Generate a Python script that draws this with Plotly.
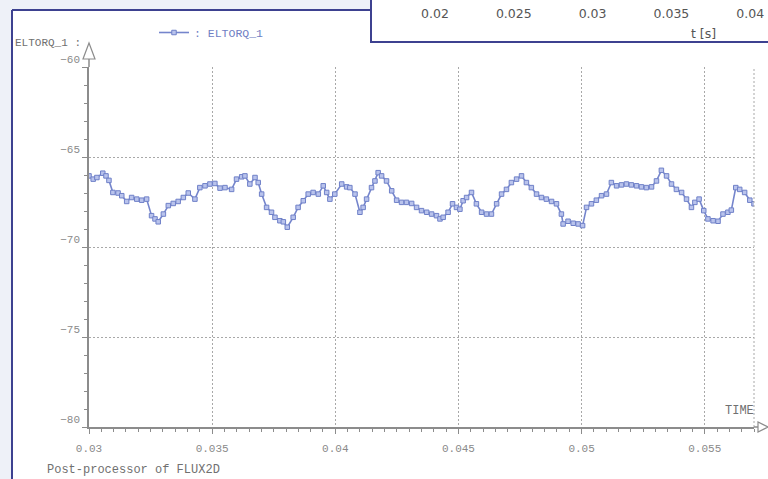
import plotly.graph_objects as go

# ---- data (time in ms, torque) ----
time_ms = [30.0, 30.17, 30.32, 30.56, 30.69, 30.81, 30.97, 31.18, 31.33, 31.53, 31.73, 31.94,
           32.14, 32.34, 32.54, 32.68, 32.81, 33.02, 33.22, 33.42, 33.62, 33.83, 34.03, 34.30,
           34.50, 34.71, 34.91, 35.11, 35.32, 35.52, 35.79, 35.99, 36.20, 36.33, 36.53, 36.74,
           36.87, 37.01, 37.21, 37.41, 37.55, 37.75, 37.89, 38.05, 38.29, 38.49, 38.70, 38.90,
           39.10, 39.31, 39.51, 39.65, 39.78, 39.98, 40.26, 40.46, 40.59, 40.80, 41.00, 41.13,
           41.27, 41.47, 41.61, 41.74, 41.88, 42.08, 42.29, 42.49, 42.69, 42.89, 43.10, 43.30,
           43.50, 43.71, 43.91, 44.11, 44.25, 44.38, 44.58, 44.76, 44.92, 45.06, 45.19, 45.33,
           45.53, 45.73, 45.94, 46.14, 46.34, 46.55, 46.75, 46.95, 47.15, 47.36, 47.56, 47.76,
           47.96, 48.17, 48.37, 48.57, 48.78, 48.98, 49.18, 49.25, 49.45, 49.66, 49.86, 50.04,
           50.20, 50.40, 50.60, 50.81, 51.01, 51.21, 51.42, 51.62, 51.82, 52.02, 52.23, 52.43,
           52.63, 52.84, 53.04, 53.24, 53.45, 53.65, 53.85, 54.06, 54.26, 54.46, 54.60, 54.77,
           54.96, 55.13, 55.34, 55.54, 55.74, 55.94, 56.08, 56.26, 56.42, 56.62, 56.83, 57.0]
eltorq_1 = [-66.05, -66.23, -66.14, -65.90, -66.05, -66.30, -66.97, -67.00, -67.15, -67.47, -67.25, -67.34,
            -67.40, -67.34, -68.26, -68.44, -68.60, -68.17, -67.70, -67.58, -67.47, -67.25, -67.00, -67.34,
            -66.70, -66.60, -66.50, -66.47, -66.73, -66.70, -66.80, -66.23, -66.10, -66.05, -66.50, -66.14,
            -66.42, -67.06, -67.80, -68.07, -68.35, -68.54, -68.60, -68.90, -68.35, -67.80, -67.43, -67.06,
            -66.97, -67.06, -66.60, -66.97, -67.34, -67.06, -66.50, -66.66, -66.70, -67.06, -68.07, -67.80,
            -67.34, -66.70, -66.33, -65.87, -66.05, -66.33, -66.88, -67.40, -67.52, -67.52, -67.58, -67.80,
            -67.98, -68.07, -68.17, -68.26, -68.44, -68.35, -68.07, -67.60, -67.80, -67.90, -67.43, -67.25,
            -66.97, -67.60, -68.07, -68.17, -68.17, -67.60, -67.06, -66.80, -66.42, -66.23, -66.05, -66.42,
            -66.70, -67.06, -67.25, -67.34, -67.47, -67.60, -68.17, -68.72, -68.57, -68.68, -68.72, -68.81,
            -67.80, -67.60, -67.40, -67.15, -67.06, -66.42, -66.60, -66.55, -66.50, -66.55, -66.60, -66.66,
            -66.70, -66.66, -66.33, -65.74, -66.05, -66.50, -66.80, -66.97, -67.34, -67.80, -67.52, -67.34,
            -67.98, -68.44, -68.54, -68.57, -68.17, -68.07, -67.95, -66.70, -66.80, -66.97, -67.40, -67.60]
time_s = [t / 1000.0 for t in time_ms]

x_ticks = [0.03, 0.035, 0.04, 0.045, 0.05, 0.055]
x_ticklabels = ["0.03", "0.035", "0.04", "0.045", "0.05", "0.055"]
y_ticks = [-80, -75, -70, -65, -60]
inset_ticks = [0.02, 0.025, 0.03, 0.035, 0.04]
inset_ticklabels = ["0.02", "0.025", "0.03", "0.035", "0.04"]

W, H = 768, 479
def px(x):
    return x / W
def py(y):
    return 1 - y / H

mono = "Liberation Mono, DejaVu Sans Mono, monospace"
sans = "DejaVu Sans, Verdana, sans-serif"
grey = "#8a8a8a"
border = "#3d4190"
gridc = "#a8a8a8"
axc = "#8c8c8c"

fig = go.Figure()
fig.add_trace(go.Scatter(
    x=time_s, y=eltorq_1, mode="lines+markers", name=": ELTORQ_1",
    line=dict(color="#7585cc", width=1.6),
    marker=dict(symbol="square", size=4.5, color="#b9c3ec", line=dict(color="#6f80c8", width=1)),
    xaxis="x", yaxis="y",
))
# invisible trace for inset axis
fig.add_trace(go.Scatter(x=[inset_ticks[0]], y=[0], mode="markers", marker=dict(opacity=0),
                         xaxis="x2", yaxis="y2", showlegend=False, hoverinfo="skip"))

fig.update_layout(
    template="none",
    width=W, height=H, autosize=False,
    margin=dict(l=0, r=0, t=0, b=0, pad=0),
    paper_bgcolor="white", plot_bgcolor="rgba(0,0,0,0)",
    showlegend=True, hovermode=False,
    legend=dict(x=px(154), y=py(18), xanchor="left", yanchor="top", bgcolor="rgba(0,0,0,0)",
                font=dict(family=mono, size=11.5, color="#7080c4"), itemwidth=30, borderwidth=0),
    xaxis=dict(domain=[px(89), px(754)], range=[0.03, 0.057], anchor="y", automargin=False,
               tickvals=x_ticks, ticktext=x_ticklabels,
               showgrid=True, gridcolor=gridc, griddash="2px,2px", gridwidth=1,
               showline=True, linecolor=axc, linewidth=1.5,
               ticks="outside", ticklen=5, tickcolor=axc,
               minor=dict(dtick=0.0005, ticks="outside", ticklen=3, tickcolor=axc, showgrid=False),
               tickfont=dict(family=mono, size=11, color=grey), zeroline=False,
               ticklabelstandoff=5),
    yaxis=dict(domain=[py(427), py(67)], range=[-80, -60], anchor="x", automargin=False,
               tickvals=y_ticks,
               showgrid=True, gridcolor=gridc, griddash="2px,2px", gridwidth=1,
               showline=True, linecolor=axc, linewidth=1.5,
               ticks="outside", ticklen=5, tickcolor=axc,
               minor=dict(dtick=1, ticks="outside", ticklen=3, tickcolor=axc, showgrid=False),
               tickfont=dict(family=mono, size=11, color=grey), zeroline=False,
               ticklabelshift=-8),
    xaxis2=dict(domain=[px(370), 1], range=[0.015876, 0.04113], anchor="y2", automargin=False,
                tickvals=inset_ticks, ticktext=inset_ticklabels,
                showgrid=False, showline=False, ticks="", zeroline=False,
                tickfont=dict(family=sans, size=12.5, color="#555555")),
    yaxis2=dict(domain=[py(4), 1], range=[0, 1], anchor="x2", visible=False, automargin=False),
)

shapes = []
# light page background outside the frame
shapes.append(dict(type="rect", xref="paper", yref="paper", x0=0, x1=px(12), y0=0, y1=1,
                   fillcolor="#eef1f8", line=dict(width=0), layer="below"))
shapes.append(dict(type="rect", xref="paper", yref="paper", x0=0, x1=px(372), y0=py(10), y1=1,
                   fillcolor="#eef1f8", line=dict(width=0), layer="below"))
# frame borders
shapes.append(dict(type="line", xref="paper", yref="paper", x0=px(12), x1=px(12), y0=0, y1=py(10),
                   line=dict(color=border, width=2)))
shapes.append(dict(type="line", xref="paper", yref="paper", x0=px(12), x1=px(371), y0=py(10), y1=py(10),
                   line=dict(color=border, width=2)))
# inset box
shapes.append(dict(type="rect", xref="paper", yref="paper", x0=px(371), x1=1.01, y0=py(42), y1=1.01,
                   fillcolor="white", line=dict(color=border, width=2), layer="below"))
# right dotted boundary of the plot area
shapes.append(dict(type="line", xref="paper", yref="paper", x0=px(754), x1=px(754), y0=py(427), y1=py(67),
                   line=dict(color=gridc, width=1, dash="2px,2px")))
# y-axis extension and arrow
shapes.append(dict(type="line", xref="paper", yref="paper", x0=px(89), x1=px(89), y0=py(67), y1=py(59),
                   line=dict(color=axc, width=1.5)))
shapes.append(dict(type="path", xref="paper", yref="paper",
                   path=f"M {px(83)},{py(59)} L {px(95)},{py(59)} L {px(89)},{py(43)} Z",
                   line=dict(color=axc, width=1.2), fillcolor="white"))
# x-axis extension and arrow
shapes.append(dict(type="line", xref="paper", yref="paper", x0=px(754), x1=px(758), y0=py(427), y1=py(427),
                   line=dict(color=axc, width=1.5)))
shapes.append(dict(type="path", xref="paper", yref="paper",
                   path=f"M {px(758)},{py(422)} L {px(758)},{py(432)} L {px(768)},{py(427)} Z",
                   line=dict(color=axc, width=1.2), fillcolor="white"))
fig.update_layout(shapes=shapes)

annotations = [
    dict(text="ELTORQ_1 :", x=px(13), y=py(43), xref="paper", yref="paper", xanchor="left",
         yanchor="middle", showarrow=False, font=dict(family=mono, size=11, color="#707070")),
    dict(text="TIME", x=px(756), y=py(411), xref="paper", yref="paper", xanchor="right",
         yanchor="middle", showarrow=False, font=dict(family=mono, size=12, color="#707070")),
    dict(text="Post-processor of FLUX2D", x=px(45), y=py(479), xref="paper", yref="paper",
         xanchor="left", yanchor="bottom", showarrow=False, font=dict(family=mono, size=12, color="#707070")),
    dict(text="t [s]", x=px(703), y=py(33), xref="paper", yref="paper", xanchor="center",
         yanchor="middle", showarrow=False,
         font=dict(family=sans, size=12.5, color="#555555")),
]
fig.update_layout(annotations=annotations)

post_js = ("document.body.style.margin='0';document.body.style.padding='0';"
           "var d=document.getElementById('{plot_id}');"
           "d.style.position='absolute';d.style.left='0px';d.style.top='0px';")
fig.write_html("out.html", config={"responsive": False, "displayModeBar": False}, post_script=post_js)
